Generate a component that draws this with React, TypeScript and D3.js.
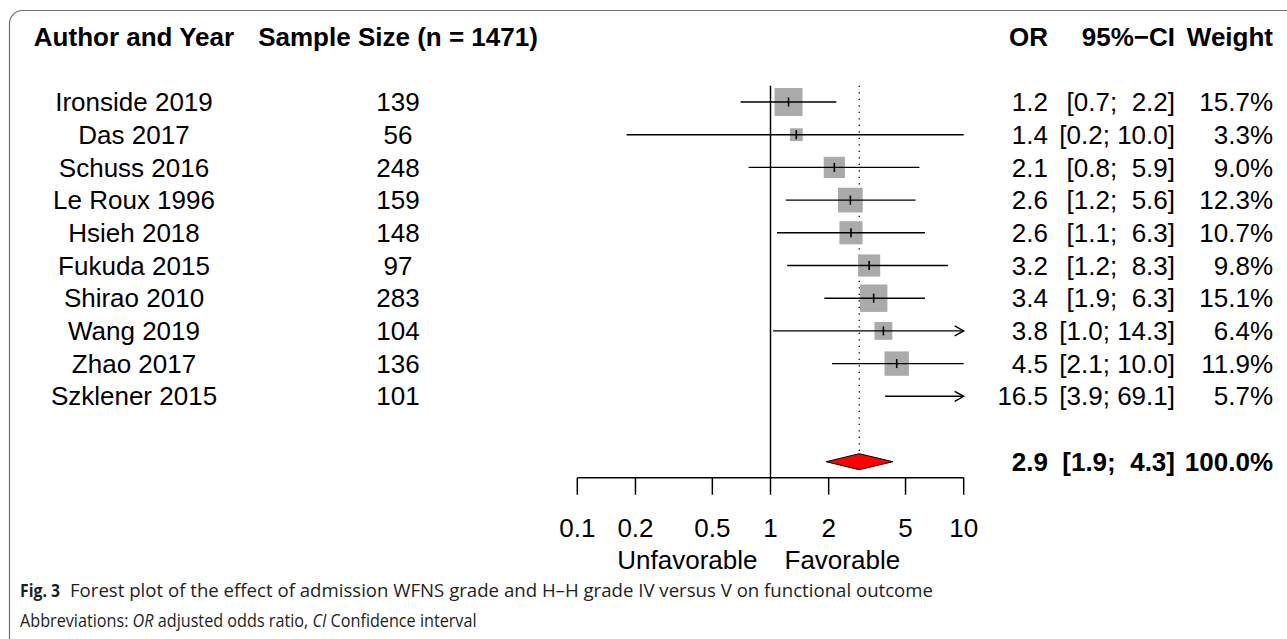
import React from "react";
import * as d3 from "d3";

// study rows
const studies = [
  "Ironside 2019",
  "Das 2017",
  "Schuss 2016",
  "Le Roux 1996",
  "Hsieh 2018",
  "Fukuda 2015",
  "Shirao 2010",
  "Wang 2019",
  "Zhao 2017",
  "Szklener 2015",
];
const sampleSizes = [139, 56, 248, 159, 148, 97, 283, 104, 136, 101];
const oddsRatio = [1.24, 1.36, 2.14, 2.59, 2.61, 3.24, 3.42, 3.84, 4.5, 16.5];
const lowerCI = [0.7, 0.18, 0.77, 1.2, 1.08, 1.22, 1.9, 1.03, 2.08, 3.92];
const upperCI = [2.19, 10.0, 5.9, 5.63, 6.3, 8.3, 6.3, 14.3, 10.0, 69.1];
const weights = [15.7, 3.3, 9.0, 12.3, 10.7, 9.8, 15.1, 6.4, 11.9, 5.7];

// pooled estimate
const pooled = { or: 2.88, lower: 1.94, upper: 4.3, weight: 100.0 };

const axisTicks = [0.1, 0.2, 0.5, 1, 2, 5, 10];

const FONT = "'Liberation Sans', Arial, Helvetica, sans-serif";
const CAPTION_FONT = "'Open Sans', 'Noto Sans', sans-serif";
const fs = 26;

const x = d3.scaleLog().domain([0.1, 10]).range([577.3, 963.7]);
const y = d3.scaleLinear().domain([0, 11]).range([102, 461.7]);

const boxScale = d3.scaleSqrt().domain([0, 15.7]).range([0, 28]);

const f1 = d3.format(".1f");
const ciText = (lo: number, hi: number) =>
  "[" + f1(lo) + "; " + f1(hi).padStart(4, " ") + "]";

const ArrowHead = ({ px, py }: { px: number; py: number }) => (
  <polyline
    points={`${px - 9},${py - 5} ${px},${py} ${px - 9},${py + 5}`}
    fill="none"
    stroke="black"
    strokeWidth={1.4}
  />
);

const StudyRow = ({ i }: { i: number }) => {
  const cy = y(i);
  const lo = Math.max(lowerCI[i], 0.1);
  const hi = Math.min(upperCI[i], 10);
  const est = oddsRatio[i];
  const inRange = est >= 0.1 && est <= 10;
  const s = boxScale(weights[i]);
  return (
    <g>
      {inRange && (
        <rect
          x={x(est) - s / 2}
          y={cy - s / 2}
          width={s}
          height={s}
          fill="#aaaaaa"
        />
      )}
      <line x1={x(lo)} x2={x(hi)} y1={cy} y2={cy} stroke="black" strokeWidth={1.4} />
      {upperCI[i] > 10.05 && <ArrowHead px={x(10)} py={cy} />}
      {inRange && (
        <line x1={x(est)} x2={x(est)} y1={cy - 4.5} y2={cy + 4.5} stroke="black" strokeWidth={1.6} />
      )}
      <text x={134} y={cy} dy="0.35em" textAnchor="middle">
        {studies[i]}
      </text>
      <text x={398} y={cy} dy="0.35em" textAnchor="middle">
        {sampleSizes[i]}
      </text>
      <text x={1048} y={cy} dy="0.35em" textAnchor="end">
        {f1(est)}
      </text>
      <text x={1175} y={cy} dy="0.35em" textAnchor="end" style={{ whiteSpace: "pre" }}>
        {ciText(lowerCI[i], upperCI[i])}
      </text>
      <text x={1273} y={cy} dy="0.35em" textAnchor="end">
        {f1(weights[i])}%
      </text>
    </g>
  );
};

export default function App() {
  const headerY = y(-2);
  const sumY = y(11);
  const axisY = 477.7;
  const topY = y(-0.5);
  const diamond = [
    [x(pooled.lower), sumY],
    [x(pooled.or), sumY - 8],
    [x(pooled.upper), sumY],
    [x(pooled.or), sumY + 8],
  ];

  return (
    <div style={{ position: "fixed", left: 0, top: 0 }}>
      <svg width={1287} height={639} style={{ display: "block", background: "white" }}>
        <rect x={9.5} y={10.5} width={1320} height={660} rx={13} fill="white" stroke="#6d6e71" strokeWidth={1.2} />

        <g fontFamily={FONT} fontSize={fs} fill="black">
          {/* headers */}
          <g fontWeight="bold">
            <text x={134} y={headerY} dy="0.35em" textAnchor="middle">Author and Year</text>
            <text x={398} y={headerY} dy="0.35em" textAnchor="middle">Sample Size (n = 1471)</text>
            <text x={1048} y={headerY} dy="0.35em" textAnchor="end">OR</text>
            <text x={1175} y={headerY} dy="0.35em" textAnchor="end">95%−CI</text>
            <text x={1273} y={headerY} dy="0.35em" textAnchor="end">Weight</text>
          </g>

          {/* reference lines */}
          <line x1={x(1)} x2={x(1)} y1={topY} y2={axisY} stroke="black" strokeWidth={1.5} />
          <line
            x1={x(pooled.or)}
            x2={x(pooled.or)}
            y1={topY}
            y2={sumY - 8}
            stroke="black"
            strokeWidth={1.3}
            strokeDasharray="1.3 5.2"
          />

          {studies.map((_, i) => (
            <StudyRow key={i} i={i} />
          ))}

          {/* pooled estimate */}
          <polygon points={diamond.map((p) => p.join(",")).join(" ")} fill="#ff0000" stroke="black" strokeWidth={1} />
          <g fontWeight="bold">
            <text x={1048} y={sumY} dy="0.35em" textAnchor="end">{f1(pooled.or)}</text>
            <text x={1175} y={sumY} dy="0.35em" textAnchor="end" style={{ whiteSpace: "pre" }}>
              {ciText(pooled.lower, pooled.upper)}
            </text>
            <text x={1273} y={sumY} dy="0.35em" textAnchor="end">{f1(pooled.weight)}%</text>
          </g>

          {/* axis */}
          <line x1={x(0.1)} x2={x(10)} y1={axisY} y2={axisY} stroke="black" strokeWidth={1.5} />
          {axisTicks.map((t) => (
            <g key={t}>
              <line x1={x(t)} x2={x(t)} y1={axisY} y2={axisY + 17} stroke="black" strokeWidth={1.5} />
              <text x={x(t)} y={528} dy="0.35em" textAnchor="middle">{String(t)}</text>
            </g>
          ))}
          <text x={x(1) - 13} y={560} dy="0.35em" textAnchor="end">Unfavorable</text>
          <text x={x(1) + 14} y={560} dy="0.35em" textAnchor="start">Favorable</text>
        </g>

        {/* caption */}
        <g fontFamily={CAPTION_FONT} fill="#231f20" fontSize={18}>
          <text x={20} y={597} fontWeight="bold" textLength={40} lengthAdjust="spacingAndGlyphs">Fig. 3</text>
          <text x={70} y={597} textLength={863} lengthAdjust="spacingAndGlyphs">
            Forest plot of the effect of admission WFNS grade and H–H grade IV versus V on functional outcome
          </text>
          <g transform="translate(20,627) scale(0.9,1)">
            <text x={0} y={0}>
              Abbreviations: <tspan fontStyle="italic">OR</tspan> adjusted odds ratio,{" "}
              <tspan fontStyle="italic">CI</tspan> Confidence interval
            </text>
          </g>
        </g>
      </svg>
    </div>
  );
}
